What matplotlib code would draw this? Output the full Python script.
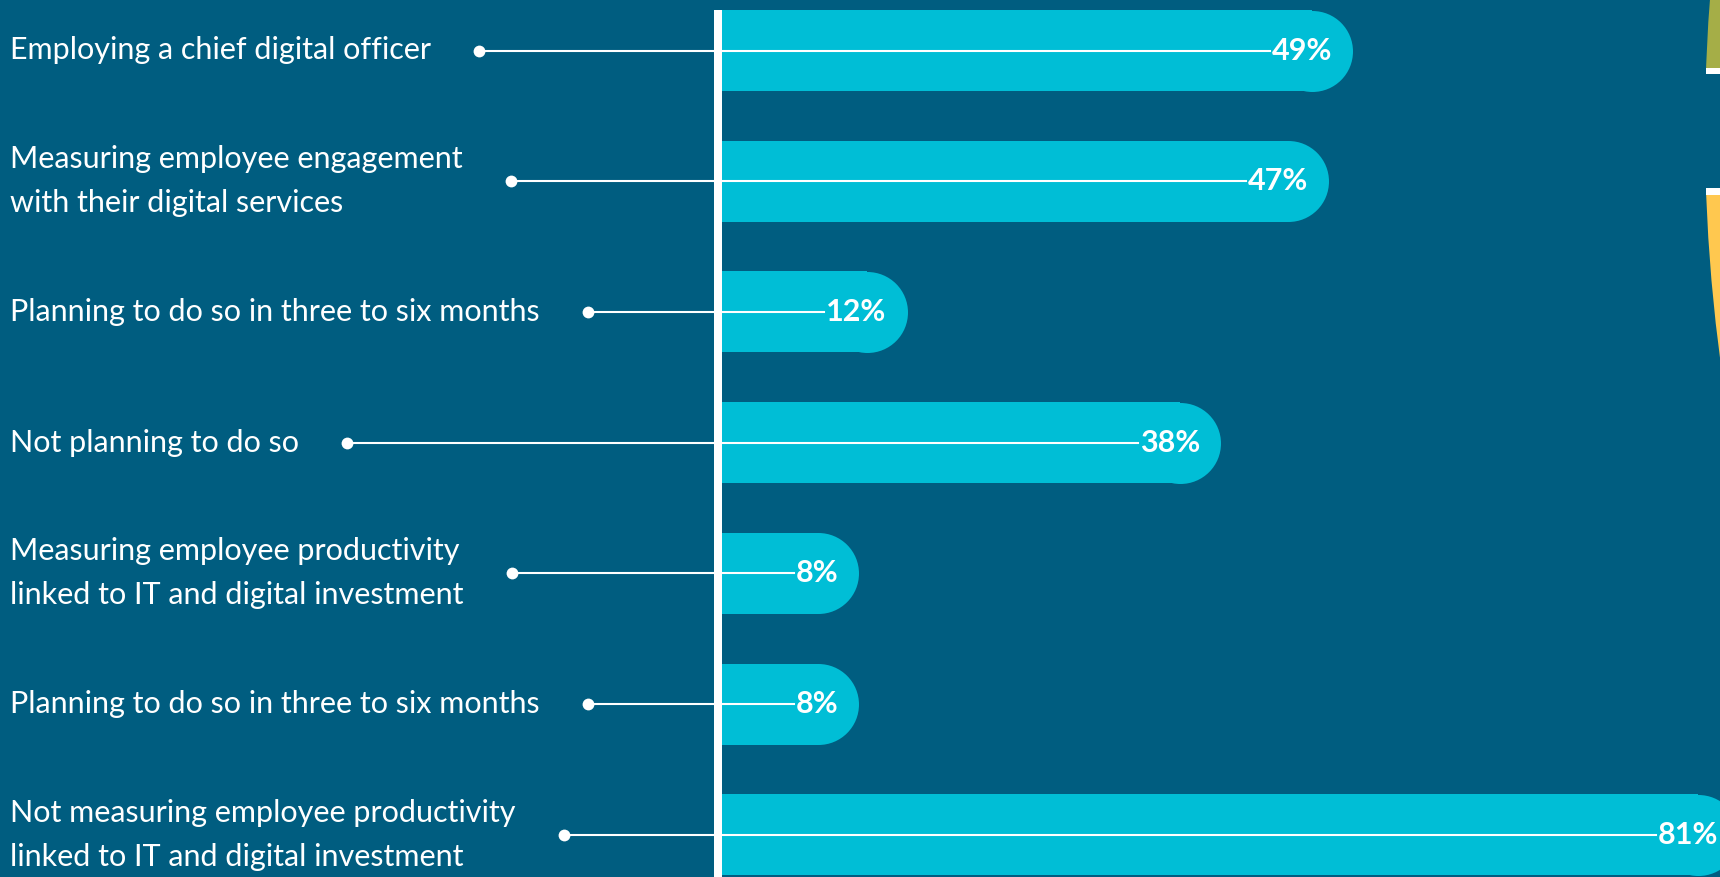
import matplotlib
matplotlib.use("Agg")
import matplotlib.pyplot as plt
from matplotlib.patches import Circle, Rectangle
from matplotlib.transforms import blended_transform_factory

# survey answers, top to bottom
labels = [
    "Employing a chief digital officer",
    "Measuring employee engagement\nwith their digital services",
    "Planning to do so in three to six months",
    "Not planning to do so",
    "Measuring employee productivity\nlinked to IT and digital investment",
    "Planning to do so in three to six months",
    "Not measuring employee productivity\nlinked to IT and digital investment",
]
values = [49, 47, 12, 38, 8, 8, 81]

BG = "#005d80"
BAR = "#00bed6"
OLIVE = "#a5ae47"
YELLOW = "#ffc84f"

W, H, DPI = 1720, 877, 100
plt.rcParams["font.family"] = ["Lato", "DejaVu Sans"]

fig = plt.figure(figsize=(W / DPI, H / DPI), dpi=DPI, facecolor=BG)
ax = fig.add_axes([0, 0, 1, 1], facecolor=BG)

# pixel layout: zero line at 722px, ~12 px per percent, rows ~131px apart
px_per = 12.05
zero_px = 722
row_px = 130.7
first_px = 50.5
ax.set_xlim(-zero_px / px_per, (W - zero_px) / px_per)
ax.set_ylim((H - first_px) / row_px, -first_px / row_px)
ax.axis("off")

rows = list(range(len(values)))
bar_h = 81 / row_px
cap_pt = 81 * 72 / DPI

ax.barh(rows, values, height=bar_h, left=0, color=BAR, zorder=2)
ax.scatter(values, rows, s=cap_pt ** 2, marker="o", color=BAR, linewidths=0, zorder=2)

# white baseline
ax.vlines(-4 / px_per, -bar_h / 2, ax.get_ylim()[0], color="white", lw=8 * 72 / DPI, zorder=3)

label_tr = blended_transform_factory(fig.transFigure, ax.transData)
texts = []
for i, (lab, v) in enumerate(zip(labels, values)):
    t = ax.text(10 / W, i, lab, transform=label_tr, ha="left", va="center",
                color="white", fontsize=22, linespacing=1.7, zorder=5)
    vt = ax.annotate(f"{v}%", xy=(v, i), xytext=(20 * 72 / DPI, 0), textcoords="offset points",
                     ha="right", va="center", color="white", fontsize=22,
                     fontweight="bold", zorder=5)
    texts.append((t, vt))

fig.canvas.draw()
r = fig.canvas.get_renderer()
inv = ax.transData.inverted()
for i, (t, vt) in enumerate(texts):
    dot_x = inv.transform((t.get_window_extent(r).x1 + 48, 0))[0]
    end_x = inv.transform((vt.get_window_extent(r).x0 - 2, 0))[0]
    ax.plot([dot_x, end_x], [i, i], color="white", lw=1.5, zorder=4)
    ax.plot(dot_x, i, "o", color="white", ms=8.5, mew=0, zorder=4)

# edge of the neighbouring ring chart
deco = fig.add_axes([0, 0, 1, 1], facecolor="none")
deco.set_xlim(0, W)
deco.set_ylim(H, 0)
deco.axis("off")
for color, (y0, y1) in [(OLIVE, (0, 68)), (YELLOW, (195, H))]:
    c = Circle((3445, 130), 1740, color=color, lw=0)
    deco.add_patch(c)
    clip = Rectangle((1690, y0), 40, y1 - y0, transform=deco.transData)
    c.set_clip_path(clip)
deco.add_patch(Rectangle((1706, 68), 14, 6, color="white", lw=0))
deco.add_patch(Rectangle((1706, 188), 14, 7, color="white", lw=0))

fig.savefig("out.png", dpi=DPI, facecolor=BG)
